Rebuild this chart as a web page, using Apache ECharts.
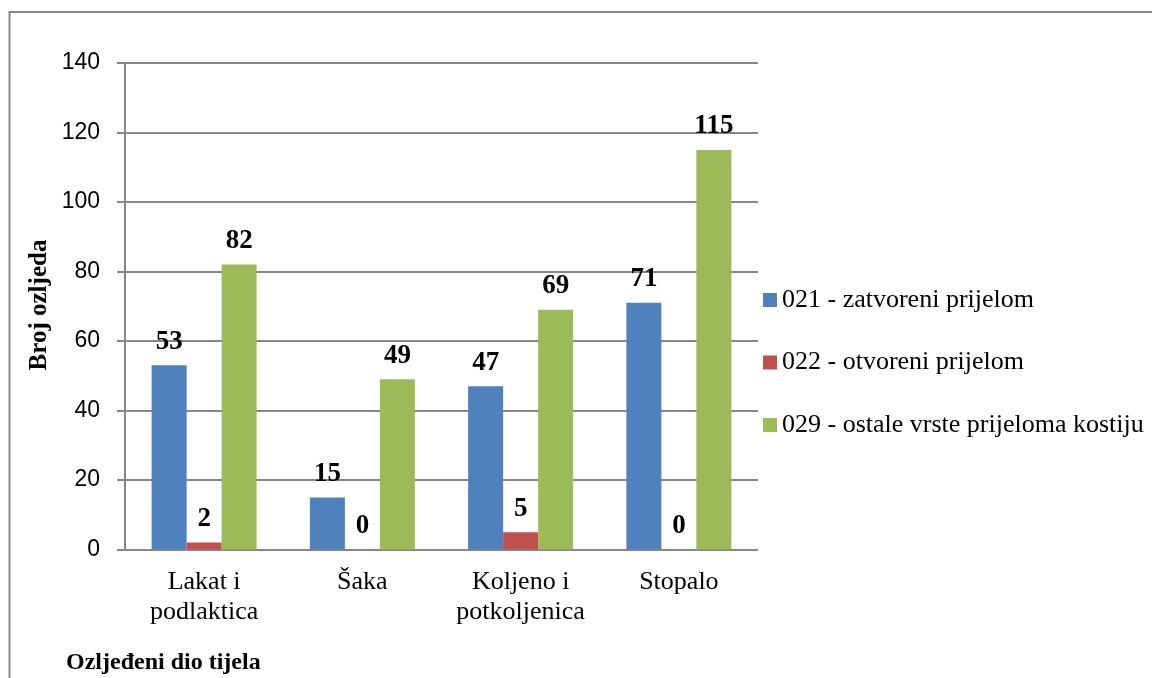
<!DOCTYPE html>
<html>
<head>
<meta charset="utf-8">
<script src="https://cdn.jsdelivr.net/npm/echarts@6/dist/echarts.min.js"></script>
<style>
html,body{margin:0;padding:0;background:#fff;}
#c{width:1152px;height:678px;}
</style>
</head>
<body>
<div id="c"></div>
<script>
var categories = ['Lakat i\npodlaktica', 'Šaka', 'Koljeno i\npotkoljenica', 'Stopalo'];
var seriesNames = ['021 - zatvoreni prijelom', '022 - otvoreni prijelom', '029 - ostale vrste prijeloma kostiju'];
var zatvoreni = [53, 15, 47, 71];
var otvoreni = [2, 0, 5, 0];
var ostale = [82, 49, 69, 115];
var yTicks = { min: 0, max: 140, interval: 20 };
var yAxisTitle = 'Broj ozljeda';
var xAxisTitle = 'Ozljeđeni dio tijela';

var colors = ['#4F81BD', '#C0504D', '#9BBB59'];
var serif = '"Liberation Serif", "Times New Roman", serif';
var sans = '"Liberation Sans", Arial, sans-serif';

function mkSeries(name, data, color) {
  return {
    name: name, type: 'bar', data: data, barWidth: 35, barGap: '0%',
    itemStyle: { color: color },
    label: { show: true, position: 'top', distance: 10, color: '#000',
      fontFamily: serif, fontWeight: 'bold', fontSize: 27 },
    emphasis: { disabled: true }
  };
}

var chart = echarts.init(document.getElementById('c'), null, { renderer: 'canvas' });
chart.setOption({
  animation: false,
  backgroundColor: '#fff',
  color: colors,
  grid: { left: 125, right: 394, top: 63, bottom: 128.5, containLabel: false },
  legend: {
    orient: 'vertical', left: 763, top: 287, itemGap: 36.5, padding: 0,
    itemWidth: 14, itemHeight: 14, icon: 'rect',
    textStyle: { fontFamily: serif, fontSize: 26, color: '#000' },
    data: seriesNames
  },
  xAxis: {
    type: 'category', data: categories,
    axisLine: { show: false },
    axisTick: { show: false },
    axisLabel: { interval: 0, margin: 18, color: '#000', fontFamily: serif, fontSize: 26, lineHeight: 30 }
  },
  yAxis: {
    type: 'value', min: yTicks.min, max: yTicks.max, interval: yTicks.interval,
    axisLine: { show: true, lineStyle: { color: '#868686', width: 2 } },
    axisTick: { show: true, length: 8, lineStyle: { color: '#868686', width: 2 } },
    splitLine: { show: true, lineStyle: { color: '#868686', width: 2 } },
    axisLabel: { margin: 25, color: '#000', fontFamily: sans, fontSize: 23 }
  },
  graphic: [
    { type: 'rect', x: 0, y: 0, silent: true,
      shape: { x: 9.5, y: 12, width: 1300, height: 800 },
      style: { fill: 'none', stroke: '#888', lineWidth: 2 } },
    { type: 'text', x: 40, y: 305, rotation: Math.PI / 2, silent: true,
      style: { text: yAxisTitle, fontFamily: serif, fontWeight: 'bold', fontSize: 25,
        fill: '#000', align: 'center', verticalAlign: 'middle' } },
    { type: 'text', x: 66, y: 663, silent: true,
      style: { text: xAxisTitle, fontFamily: serif, fontWeight: 'bold', fontSize: 24,
        fill: '#000', align: 'left', verticalAlign: 'middle' } }
  ],
  series: [
    mkSeries(seriesNames[0], zatvoreni, colors[0]),
    mkSeries(seriesNames[1], otvoreni, colors[1]),
    mkSeries(seriesNames[2], ostale, colors[2])
  ]
});
</script>
</body>
</html>
